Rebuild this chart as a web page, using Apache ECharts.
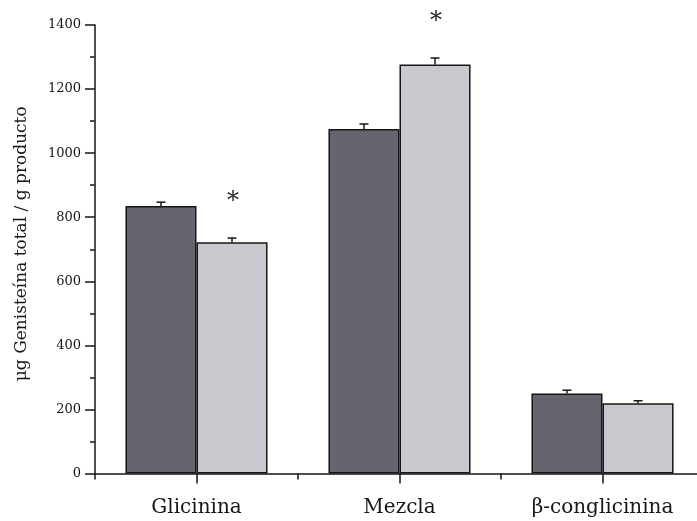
<!DOCTYPE html>
<html>
<head>
<meta charset="utf-8">
<script src="https://cdn.jsdelivr.net/npm/echarts@6/dist/echarts.min.js"></script>
<style>
  html, body { margin: 0; padding: 0; background: #fff; overflow: hidden; }
  /* the plot area runs a few pixels past the right edge of the window */
  #chart { width: 704px; height: 521px; }
</style>
</head>
<body>
<div id="chart"></div>
<script>
// Total genistein content per protein fraction (two treatments)
const categories = ['Glicinina', 'Mezcla', 'β-conglicinina'];
const darkValues = [835, 1075, 250];
const darkErrors = [12, 16, 10];
const lightValues = [722, 1277, 219];
const lightErrors = [13, 20, 8];
const lightSignificant = [true, true, false];
const yTickValues = [0, 200, 400, 600, 800, 1000, 1200, 1400];

const SERIF = '"DejaVu Serif", "Liberation Serif", serif';
const INK = '#161616';
const CATEGORY_GAP = 0.30;

const gridBox = { left: 95, right: 0, top: 25, bottom: 47.5 };

// Error bars (upper half) plus optional significance asterisk above them
function errorBarSeries(values, errors, side, marks) {
  return {
    type: 'custom',
    xAxisIndex: 0,
    yAxisIndex: 0,
    z: 5,
    clip: false,
    data: values.map((v, i) => [i, v, errors[i], marks && marks[i] ? 1 : 0]),
    encode: { x: 0, y: 1 },
    renderItem(params, api) {
      const i = api.value(0);
      const v = api.value(1);
      const e = api.value(2);
      const band = api.size([1, 0])[0];
      const barW = band * (1 - CATEGORY_GAP) / 2;
      const base = api.coord([i, v]);
      const top = api.coord([i, v + e]);
      const x = base[0] + side * barW / 2;
      const lineStyle = { stroke: INK, lineWidth: 1.5 };
      const children = [
        { type: 'line', shape: { x1: x, y1: base[1], x2: x, y2: top[1] }, style: lineStyle },
        { type: 'line', shape: { x1: x - 4.5, y1: top[1], x2: x + 4.5, y2: top[1] }, style: lineStyle }
      ];
      if (api.value(3)) {
        children.push({
          type: 'text',
          x: x + 1,
          y: top[1] - 36,
          style: {
            text: '*',
            font: '24px ' + SERIF,
            fill: '#2a2a2a',
            align: 'center',
            verticalAlign: 'middle'
          }
        });
      }
      return { type: 'group', children };
    }
  };
}

const chart = echarts.init(document.getElementById('chart'), null, { renderer: 'canvas' });

chart.setOption({
  animation: false,
  backgroundColor: '#ffffff',
  grid: [
    Object.assign({}, gridBox, { containLabel: false }),
    Object.assign({}, gridBox, { containLabel: false })
  ],
  xAxis: [
    {
      type: 'category',
      gridIndex: 0,
      data: categories,
      axisLine: { lineStyle: { color: INK, width: 1.5 } },
      axisTick: { show: true, alignWithLabel: true, length: 10, lineStyle: { color: INK, width: 1.5 } },
      axisLabel: { color: INK, fontFamily: SERIF, fontSize: 20, margin: 24 },
      splitLine: { show: false }
    },
    {
      // boundary ticks between categories
      type: 'category',
      gridIndex: 1,
      data: categories,
      axisLine: { show: false },
      axisTick: { show: true, alignWithLabel: false, length: 6, lineStyle: { color: INK, width: 1.5 } },
      axisLabel: { show: false },
      splitLine: { show: false }
    }
  ],
  yAxis: [
    {
      type: 'value',
      gridIndex: 0,
      min: yTickValues[0],
      max: yTickValues[yTickValues.length - 1],
      interval: yTickValues[1] - yTickValues[0],
      name: 'μg Genisteína total / g producto',
      nameLocation: 'middle',
      nameGap: 65,
      nameMoveOverlap: false,
      nameTextStyle: { color: INK, fontFamily: SERIF, fontSize: 17, padding: [0, 0, 0, 11] },
      axisLine: { show: true, lineStyle: { color: INK, width: 1.5 } },
      axisTick: { show: true, length: 10, lineStyle: { color: INK, width: 1.5 } },
      minorTick: { show: true, splitNumber: 2, length: 5, lineStyle: { color: INK, width: 1.5 } },
      axisLabel: {
        color: INK, fontFamily: SERIF, fontSize: 13, margin: 14,
        formatter: (v) => String(v)
      },
      splitLine: { show: false }
    },
    {
      type: 'value',
      gridIndex: 1,
      min: 0,
      max: 1400,
      show: false
    }
  ],
  series: [
    {
      type: 'bar',
      xAxisIndex: 0,
      yAxisIndex: 0,
      data: darkValues,
      barGap: '0%',
      barCategoryGap: (CATEGORY_GAP * 100) + '%',
      itemStyle: { color: '#65656f', borderColor: INK, borderWidth: 1.5 }
    },
    {
      type: 'bar',
      xAxisIndex: 0,
      yAxisIndex: 0,
      data: lightValues,
      barGap: '0%',
      barCategoryGap: (CATEGORY_GAP * 100) + '%',
      itemStyle: { color: '#c8c8ce', borderColor: INK, borderWidth: 1.5 }
    },
    errorBarSeries(darkValues, darkErrors, -1, null),
    errorBarSeries(lightValues, lightErrors, 1, lightSignificant)
  ]
});
</script>
</body>
</html>
